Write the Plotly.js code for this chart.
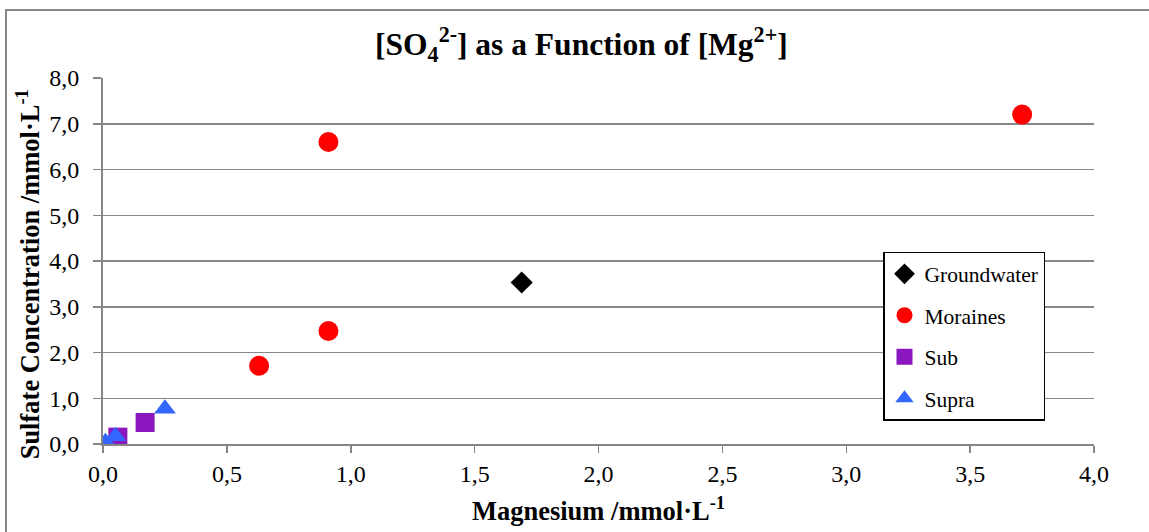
<!DOCTYPE html>
<html>
<head>
<meta charset="utf-8">
<script src="https://cdn.plot.ly/plotly-3.0.1.min.js"></script>
<style>html,body{margin:0;padding:0;background:#fff;}#chart{width:1149px;height:532px;}</style>
</head>
<body>
<div id="chart"></div>
<script>
const groundwaterX = [1.69];
const groundwaterY = [3.53];
const morainesX = [0.91, 3.71, 0.91, 0.63];
const morainesY = [6.60, 7.20, 2.47, 1.71];
const subX = [0.06, 0.17];
const subY = [0.15, 0.47];
const supraX = [0.01, 0.05, 0.25];
const supraY = [0.04, 0.17, 0.77];

const serif = 'Liberation Serif, Times New Roman, serif';
const traces = [
  {name: 'Groundwater', x: groundwaterX, y: groundwaterY, mode: 'markers', type: 'scatter', legendgroup: 'g1',
   marker: {symbol: 'diamond', size: 17, color: '#000000'}},
  {name: 'Moraines', x: morainesX, y: morainesY, mode: 'markers', type: 'scatter', legendgroup: 'g2',
   marker: {symbol: 'circle', size: 20, color: '#FF0000'}},
  {name: 'Sub', x: subX, y: subY, mode: 'markers', type: 'scatter', legendgroup: 'g3',
   marker: {symbol: 'square', size: 19, color: '#8A17BE'}},
  {name: 'Supra', x: supraX, y: supraY, mode: 'markers', type: 'scatter', legendgroup: 'g4',
   marker: {symbol: 'triangle-up', size: 19, color: '#3366FF'}}
];

const layout = {
  width: 1149, height: 532,
  margin: {l: 103, r: 55, t: 78, b: 88},
  paper_bgcolor: '#ffffff', plot_bgcolor: '#ffffff',
  separators: ', ',
  font: {family: serif, size: 24, color: '#000'},
  title: {text: '<b>[SO<sub>4</sub><sup>2-</sup>] as a Function of [Mg<sup>2+</sup>]</b>',
          font: {family: serif, size: 31.5, color: '#000'}, x: 0.506, xanchor: 'center', xref: 'container',
          y: 0.917, yanchor: 'middle', yref: 'container'},
  xaxis: {range: [0, 4], dtick: 0.5, tickformat: '.1f', showgrid: false, zeroline: false,
          showline: true, linecolor: '#868686', linewidth: 2, ticks: 'outside', ticklen: 7, tickcolor: '#868686', tickwidth: 1.5,
          tickfont: {family: serif, size: 24, color: '#000'},
          title: {text: '<b>Magnesium /mmol·L<sup>-1</sup></b>', font: {family: serif, size: 26.5, color: '#000'}, standoff: 16}},
  yaxis: {range: [0, 8], dtick: 1, tickformat: '.1f', showgrid: true, gridcolor: '#888888', gridwidth: 1.5, zeroline: false,
          showline: true, linecolor: '#868686', linewidth: 2, ticks: 'outside', ticklen: 8, tickcolor: '#868686', tickwidth: 1.5,
          ticklabelstandoff: 9,
          tickfont: {family: serif, size: 24, color: '#000'},
          title: {text: '<b>Sulfate Concentration /mmol·L<sup>-1</sup>\u00a0\u00a0\u00a0\u00a0</b>', font: {family: serif, size: 26.5, color: '#000'}, standoff: 2}},
  legend: {x: (883 - 103) / 991, y: 0.525, xanchor: 'left', yanchor: 'top', bgcolor: '#ffffff', bordercolor: '#000000', borderwidth: 1.5,
           font: {family: serif, size: 21.5, color: '#000'}, tracegroupgap: 10.5, itemwidth: 30},
  showlegend: true,
  shapes: [{type: 'rect', xref: 'paper', yref: 'paper', x0: -97/991, x1: 1.2, y0: -0.5, y1: (444 - 10) / 366,
            line: {color: '#868686', width: 2}, fillcolor: 'rgba(0,0,0,0)', layer: 'below'}]
};

Plotly.newPlot('chart', traces, layout, {displayModeBar: false, staticPlot: true});
</script>
</body>
</html>
